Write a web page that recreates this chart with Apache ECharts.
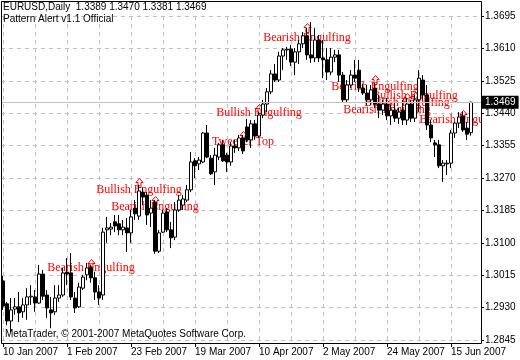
<!DOCTYPE html>
<html><head><meta charset="utf-8">
<script src="https://cdn.jsdelivr.net/npm/echarts@6/dist/echarts.min.js"></script>
<style>html,body{margin:0;padding:0;background:#fff}#c{width:520px;height:360px}</style>
</head><body><div id="c"></div>
<script>
const symbolName = 'EURUSD,Daily';
const indicatorName = 'Pattern Alert v1.1 Official';
const copyright = 'MetaTrader, \u00a9 2001-2007 MetaQuotes Software Corp.';
const tickLabels = ['10 Jan 2007','1 Feb 2007','23 Feb 2007','19 Mar 2007','10 Apr 2007','2 May 2007','24 May 2007','15 Jun 2007'];
const priceMin = 1.2845, priceMax = 1.3695, priceStep = 0.0085;

const opens = [1.3000,1.2940,1.2895,1.2926,1.2932,1.2919,1.2937,1.2958,1.2958,1.2942,
1.3018,1.2963,1.2924,1.2919,1.2955,1.2963,1.3023,1.3021,1.2955,1.2932,
1.2981,1.3016,1.3036,1.3008,1.2971,1.2963,1.3134,1.3136,1.3155,1.3150,
1.3134,1.3139,1.3126,1.3191,1.3170,1.3233,1.3225,1.3178,1.3207,1.3078,
1.3128,1.3181,1.3134,1.3115,1.3186,1.3199,1.3212,1.3239,1.3315,1.3307,
1.3312,1.3388,1.3322,1.3286,1.3325,1.3357,1.3330,1.3312,1.3354,1.3349,
1.3375,1.3404,1.3370,1.3412,1.3380,1.3435,1.3464,1.3496,1.3543,1.3527,
1.3590,1.3606,1.3608,1.3574,1.3601,1.3622,1.3643,1.3593,1.3585,1.3632,
1.3585,1.3580,1.3548,1.3587,1.3593,1.3540,1.3475,1.3514,1.3540,1.3553,
1.3506,1.3493,1.3475,1.3506,1.3464,1.3448,1.3464,1.3433,1.3448,1.3427,
1.3448,1.3422,1.3464,1.3427,1.3475,1.3527,1.3488,1.3409,1.3362,1.3357,
1.3302,1.3307,1.3309,1.3388,1.3414,1.3432,1.3401,1.3389];
const highs = [1.3013,1.2945,1.2955,1.2955,1.2971,1.2955,1.2981,1.2989,1.2976,1.3042,
1.3029,1.2976,1.2958,1.2989,1.2989,1.3034,1.3060,1.3073,1.2971,1.2995,
1.3016,1.3047,1.3042,1.3024,1.2989,1.3139,1.3168,1.3152,1.3173,1.3173,
1.3160,1.3165,1.3186,1.3212,1.3252,1.3244,1.3233,1.3212,1.3212,1.3134,
1.3186,1.3191,1.3155,1.3207,1.3225,1.3225,1.3252,1.3338,1.3322,1.3325,
1.3391,1.3409,1.3330,1.3349,1.3362,1.3370,1.3336,1.3364,1.3370,1.3383,
1.3383,1.3425,1.3422,1.3422,1.3443,1.3475,1.3506,1.3553,1.3569,1.3601,
1.3611,1.3614,1.3619,1.3611,1.3632,1.3653,1.3664,1.3679,1.3664,1.3645,
1.3632,1.3611,1.3611,1.3606,1.3606,1.3548,1.3527,1.3553,1.3580,1.3580,
1.3517,1.3514,1.3514,1.3519,1.3488,1.3475,1.3480,1.3462,1.3469,1.3454,
1.3475,1.3480,1.3475,1.3488,1.3553,1.3540,1.3514,1.3422,1.3370,1.3370,
1.3317,1.3317,1.3396,1.3417,1.3443,1.3443,1.3417,1.3470];
const lows = [1.2924,1.2884,1.2866,1.2911,1.2892,1.2903,1.2898,1.2937,1.2919,1.2940,
1.2950,1.2903,1.2876,1.2911,1.2945,1.2958,1.2989,1.2950,1.2916,1.2929,
1.2976,1.3002,1.2995,1.2950,1.2937,1.2950,1.3100,1.3120,1.3128,1.3120,
1.3120,1.3076,1.3100,1.3160,1.3160,1.3199,1.3147,1.3141,1.3071,1.3073,
1.3126,1.3128,1.3086,1.3107,1.3181,1.3186,1.3207,1.3233,1.3270,1.3291,
1.3309,1.3322,1.3278,1.3252,1.3317,1.3312,1.3286,1.3302,1.3336,1.3341,
1.3333,1.3364,1.3349,1.3370,1.3375,1.3427,1.3443,1.3490,1.3522,1.3522,
1.3553,1.3580,1.3564,1.3540,1.3569,1.3611,1.3580,1.3572,1.3574,1.3574,
1.3532,1.3527,1.3540,1.3574,1.3522,1.3467,1.3467,1.3506,1.3522,1.3496,
1.3488,1.3462,1.3462,1.3454,1.3427,1.3435,1.3422,1.3409,1.3417,1.3412,
1.3409,1.3409,1.3417,1.3417,1.3443,1.3475,1.3396,1.3364,1.3325,1.3296,
1.3260,1.3278,1.3296,1.3375,1.3401,1.3391,1.3370,1.3381];
const closes = [1.2934,1.2895,1.2924,1.2932,1.2916,1.2937,1.2958,1.2960,1.2942,1.3018,
1.2960,1.2929,1.2916,1.2955,1.2963,1.3021,1.3018,1.2958,1.2929,1.2984,
1.3010,1.3034,1.3008,1.2971,1.2955,1.3128,1.3139,1.3141,1.3144,1.3134,
1.3141,1.3126,1.3168,1.3176,1.3236,1.3220,1.3173,1.3191,1.3078,1.3126,
1.3178,1.3134,1.3113,1.3186,1.3212,1.3215,1.3239,1.3312,1.3302,1.3317,
1.3388,1.3325,1.3281,1.3330,1.3357,1.3315,1.3312,1.3354,1.3349,1.3375,
1.3341,1.3370,1.3412,1.3380,1.3435,1.3464,1.3496,1.3543,1.3527,1.3590,
1.3606,1.3608,1.3574,1.3601,1.3622,1.3643,1.3593,1.3585,1.3632,1.3585,
1.3580,1.3548,1.3587,1.3593,1.3540,1.3475,1.3514,1.3540,1.3532,1.3506,
1.3493,1.3475,1.3501,1.3464,1.3448,1.3464,1.3433,1.3448,1.3427,1.3443,
1.3422,1.3464,1.3427,1.3475,1.3532,1.3488,1.3409,1.3375,1.3357,1.3302,
1.3309,1.3309,1.3388,1.3414,1.3430,1.3396,1.3385,1.3469];

const patternIdx   = [22, 34, 38, 60, 64, 76, 93, 96, 101, 103, 115];
const patternNames = ['Bearish Engulfing','Bullish Engulfing','Bearish Engulfing','Tweezer Top','Bullish Engulfing',
  'Bearish Engulfing','Bearish Engulfing','Bearish Engulfing','Bullish Engulfing','Bullish Engulfing','Bearish Engulfing'];
const arrowPrices  = [1.3058,1.3270,1.3223,1.3393,1.3464,1.3677,1.3540,1.3475,1.3493,1.3496,1.3448];
const textPrices   = [1.3034,1.3240,1.3194,1.3364,1.3441,1.3637,1.3509,1.3448,1.3467,1.3485,1.3422];

// weekday dates starting 10 Jan 2007
const MONTHS = ['Jan','Feb','Mar','Apr','May','Jun','Jul','Aug','Sep','Oct','Nov','Dec'];
const dates = [];
(function(){ const d = new Date(Date.UTC(2007,0,10));
  while (dates.length < opens.length) { const wd = d.getUTCDay();
    if (wd !== 0 && wd !== 6) dates.push(d.getUTCDate()+' '+MONTHS[d.getUTCMonth()]+' '+d.getUTCFullYear());
    d.setUTCDate(d.getUTCDate()+1); } })();
const categories = dates.concat([' ', '  ']);

const last = opens.length - 1;
const header = symbolName + '  ' + [opens[last], highs[last], lows[last], closes[last]].map(v => v.toFixed(4)).join(' ');
const SANS = '"Liberation Sans", Arial, sans-serif';

const chart = echarts.init(document.getElementById('c'), null, {renderer: 'canvas'});
chart.setOption({
  animation: false,
  backgroundColor: '#fff',
  grid: {left: 1, right: 39, top: 16, bottom: 20, show: false},
  xAxis: {
    type: 'category', data: categories, boundaryGap: true, offset: 3,
    axisLine: {show: false},
    axisTick: {show: true, alignWithLabel: true, length: 4, lineStyle: {color: '#000'},
      interval: (i) => i % 16 === 0 && i / 16 < tickLabels.length},
    axisLabel: {interval: (i) => i % 16 === 0 && i / 16 < tickLabels.length,
      formatter: (v, i) => tickLabels[i / 16] || '', align: 'left', margin: 4,
      color: '#000', fontSize: 10, fontFamily: SANS},
    splitLine: {show: true, alignWithLabel: true, interval: (i) => i % 8 === 0,
      lineStyle: {color: '#c0c0c0', type: [4, 4], width: 1}}
  },
  yAxis: {
    type: 'value', position: 'right', min: priceMin, max: priceMax, interval: priceStep, scale: true,
    axisLine: {show: false},
    axisTick: {show: true, length: 3, lineStyle: {color: '#000'}},
    axisLabel: {formatter: v => v.toFixed(4), color: '#000', fontSize: 10, fontFamily: SANS, margin: 4},
    splitLine: {show: true, lineStyle: {color: '#c0c0c0', type: [4, 4], width: 1}}
  },
  series: [{
    type: 'candlestick',
    data: opens.map((o, i) => [o, closes[i], lows[i], highs[i]]),
    barWidth: 3,
    itemStyle: {color: '#fff', color0: '#000', borderColor: '#000', borderColor0: '#000', borderWidth: 1},
    markLine: {
      silent: true, symbol: ['none', 'none'], animation: false, precision: 4,
      data: [{yAxis: closes[last]}],
      lineStyle: {color: '#c0c0c0', type: 'solid', width: 1},
      label: {position: 'end', formatter: () => closes[last].toFixed(4), backgroundColor: '#000',
        color: '#fff', padding: [2, 3, 1, 3], fontSize: 10, fontFamily: SANS, distance: 1}
    }
  }, {
    type: 'custom', clip: true,
    data: patternIdx.map((ix, k) => [ix, arrowPrices[k], textPrices[k]]),
    encode: {x: 0, y: 1},
    renderItem: function (params, api) {
      const k = params.dataIndex;
      const a = api.coord([api.value(0), api.value(1)]);
      const t = api.coord([api.value(0), api.value(2)]);
      const x = Math.round(a[0]) + 0.5, y = Math.round(a[1]) + 0.5;
      return {type: 'group', children: [
        {type: 'polygon', shape: {points: [[x, y], [x + 3.5, y + 4], [x + 1.5, y + 4], [x + 1.5, y + 9], [x - 1.5, y + 9], [x - 1.5, y + 4], [x - 3.5, y + 4]]},
          style: {fill: 'none', stroke: '#ff0000', lineWidth: 1}},
        {type: 'text', x: t[0], y: t[1], style: {text: patternNames[k], fill: '#ff0000',
          font: '12px "Liberation Serif", "Times New Roman", serif', align: 'center', verticalAlign: 'middle'}}
      ]};
    }
  }],
  graphic: [
    {type: 'rect', silent: true, z: 100, shape: {x: 1.5, y: 1.5, width: 480, height: 342},
      style: {fill: 'none', stroke: '#000', lineWidth: 1}},
    {type: 'text', left: 3, top: 2, z: 100, style: {text: header, fill: '#000', font: '10px ' + SANS}},
    {type: 'text', left: 3, top: 14, z: 100, style: {text: indicatorName, fill: '#000', font: '10px ' + SANS}},
    {type: 'text', left: 5, top: 329, z: 100, style: {text: copyright, fill: '#000', font: '10px ' + SANS}}
  ]
});
</script></body></html>
